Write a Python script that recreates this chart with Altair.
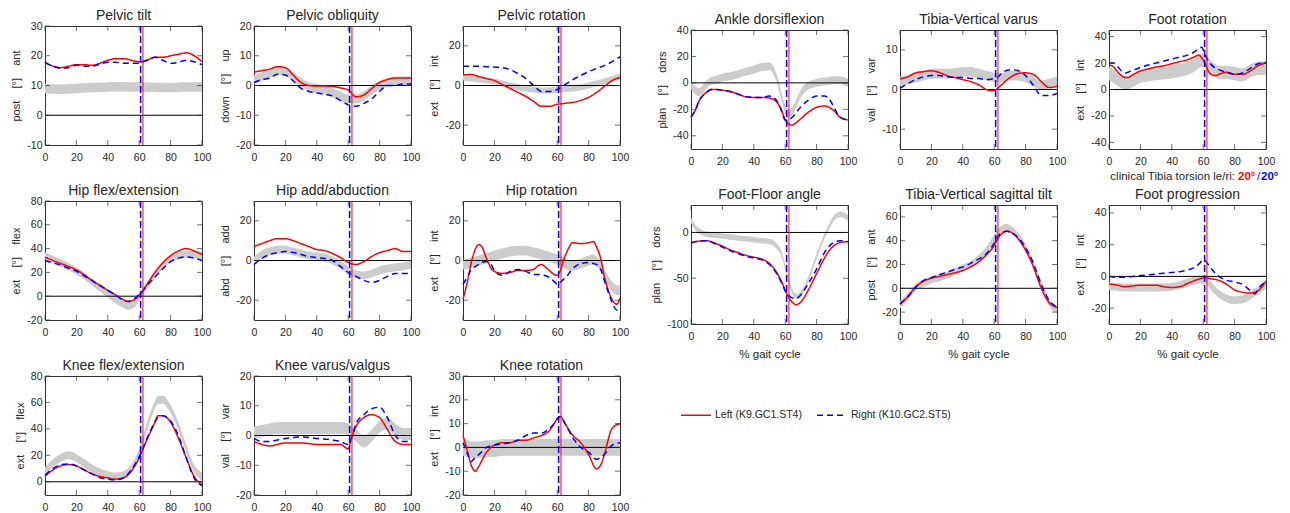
import altair as alt
import pandas as pd

FONT = "Liberation Sans"
TXT = "#262626"
NB = "\u00a0"
TO_LEFT = 62.4
TO_RIGHT = 60.9
LEFT_NAME = "Left (K9.GC1.ST4)"
RIGHT_NAME = "Right (K10.GC2.ST5)"
XTICKS = [0, 20, 40, 60, 80, 100]
S5 = [0, 5, 10, 15, 20, 25, 30, 35, 40, 45, 50, 55, 60, 65, 70, 75, 80, 85, 90, 95, 100]

# ---------------- Pelvic tilt
pt_x = S5
pt_left = [17.8, 16.5, 16, 16.5, 17, 17, 16.8, 17.5, 18.5, 19, 19, 18.5, 18, 18.5, 19.5, 19.5, 20, 20.5, 21, 20, 18]
pt_right = [17.8, 16.5, 15.8, 16, 16.8, 16.5, 16.5, 17.2, 17.8, 17.8, 17.5, 17.5, 17.5, 18.5, 19.5, 18.5, 17.5, 17.8, 18.5, 18, 17]
pt_norm = [9, 8.8, 8.7, 8.8, 9, 9.2, 9.3, 9.4, 9.5, 9.6, 9.6, 9.5, 9.5, 9.4, 9.4, 9.3, 9.3, 9.4, 9.5, 9.5, 9.5]
pt_sd = [1.6] * 21

# ---------------- Pelvic obliquity
po_x = S5
po_left = [4.5, 5, 5.5, 6.3, 6, 3.5, 1, 0, -0.2, -0.2, -0.3, -0.8, -1.5, -3.8, -3.2, -1, 1, 2, 2.5, 2.5, 2.5]
po_right = [1, 2, 2.5, 3.8, 3.5, 1.5, -1, -2, -2.5, -3, -3.5, -5, -6.5, -7, -6, -4.5, -2, 0, 0, 0.5, 0.5]
po_norm = [2, 3, 4, 5, 4.5, 3, 1, -0.5, -1, -1.5, -2.5, -3.5, -4.5, -4.5, -3.5, -1.5, 0, 1, 1.5, 1.5, 1.5]
po_sd = [1.5] * 21

# ---------------- Pelvic rotation
pr_x = S5
pr_left = [5.4, 5.5, 4.5, 3.5, 2.5, 0.5, -1.5, -3.5, -5.5, -8, -10.5, -10.5, -9.5, -9, -8.5, -7.5, -6, -3.5, -0.5, 2.5, 4]
pr_right = [9.7, 9.7, 9.7, 9.5, 9.3, 9, 8, 6, 3.5, 0, -3, -3, -2, 0.5, 3, 5, 7, 8.5, 10, 12, 14.5]
pr_norm = [4, 3.5, 3, 2.5, 2, 1, 0, -0.8, -1.5, -2, -2.5, -2.5, -2, -1.8, -1.5, -1, 0, 1, 2, 3.2, 4.5]
pr_sd = [1.5] * 21

# ---------------- Ankle dorsiflexion
ad_x = [0, 3, 5, 8, 10, 13, 15, 20, 25, 30, 35, 40, 45, 50, 55, 58, 60, 62, 64, 66, 70, 75, 80, 85, 88, 90, 95, 100]
ad_left = [-25.8, -20, -14, -9, -7, -5, -5, -5.5, -6.5, -8.5, -10.5, -11, -11, -11.5, -15, -22, -28, -31, -32, -31, -27, -22, -18.5, -17.5, -18.5, -20, -26, -28]
ad_right = [-25.8, -20, -14, -9, -7, -5, -5, -5.5, -6.5, -8.5, -10.5, -11, -11, -10, -14, -22, -28, -28, -26.5, -24, -18, -13, -10, -10, -12, -16, -26, -28]
ad_norm = [-2, -6, -7, -4, -1, 1.5, 2, 4, 5, 6.5, 8.5, 10, 12, 12.5, 2, -12, -20, -23, -22, -18, -8, -2, 0, 1, 1.5, 2, 2, 0]
ad_sd = [3] * 28

# ---------------- Tibia-Vertical varus
tv_x = [0, 5, 10, 15, 20, 25, 30, 35, 40, 45, 50, 55, 58, 60, 62, 65, 70, 75, 80, 85, 90, 95, 100]
tv_left = [2.7, 3.2, 4.2, 4.5, 4.7, 4.3, 3.5, 3, 2.5, 2, 1.2, 0, -0.3, -0.2, 0.2, 1.3, 3, 4, 4.2, 3.8, 2, 0.5, 0.8]
tv_right = [0.3, 1.5, 2.5, 3.2, 3.5, 3.5, 3.2, 3, 3, 2.8, 2.8, 2.5, 2.6, 2.8, 3, 4.2, 5, 4.8, 3.5, 1, -1.5, -1.5, -1]
tv_norm = [2, 2.5, 3, 3.5, 4, 4, 4, 4.2, 4.5, 4.5, 4, 3.5, 3.2, 3, 3, 3, 3.5, 3.5, 3, 2, 1, 1.5, 2]
tv_sd = [1.2] * 23

# ---------------- Foot rotation
fr_x = [0, 3, 5, 8, 10, 12, 15, 20, 25, 30, 35, 40, 45, 50, 55, 57, 59, 61, 63, 65, 68, 70, 75, 80, 85, 90, 95, 100]
fr_left = [18.6, 17, 14, 10.5, 9, 9, 11, 14, 15.5, 17, 18, 19.5, 21, 22.5, 25, 26, 24, 20, 14.5, 11.5, 10.5, 11.5, 13, 11.5, 11.5, 14, 18, 20]
fr_right = [20, 20, 18, 14, 12.5, 13, 14.5, 16.5, 18.5, 20, 21.5, 23, 24.5, 26, 29, 31, 32, 27, 22, 19, 16, 15, 13, 11.5, 12.5, 16, 19.5, 20.5]
fr_norm = [12, 10, 8, 6, 5, 5, 7, 10, 11, 12, 12.5, 13.5, 14.5, 16, 19, 21, 22, 22, 20, 17, 14, 13, 13, 12, 11, 14, 16, 16]
fr_sd = [5] * 28

# ---------------- Hip flex/extension
hf_x = [0, 5, 10, 15, 20, 25, 30, 35, 40, 45, 50, 53, 55, 58, 60, 62, 65, 70, 75, 80, 85, 90, 95, 100]
hf_left = [32.8, 30, 27.5, 25, 22, 18, 13, 9, 5, 1, -3, -4.5, -4, -2, 1, 4, 10, 20, 28, 34, 38, 40, 38, 35]
hf_right = [30, 28, 26, 23.5, 21, 17, 13, 9, 5, 1, -3.5, -4.5, -3.5, -1, 1.5, 4, 9, 16, 23, 29, 32, 33, 32, 30]
hf_norm = [34, 31, 28, 25, 21, 17, 12, 7, 2, -3, -7, -8.5, -8, -5, -1, 3, 9, 18, 26, 31, 34, 35, 35, 34]
hf_sd = [3] * 24

# ---------------- Hip add/abduction
ha_x = S5
ha_left = [7.1, 8.5, 10, 11, 11, 10, 8.5, 7, 5.5, 5, 3.5, 1.5, -1, -2, -0.5, 2, 4, 5, 6, 4.5, 4.5]
ha_right = [-2, 1, 3, 4, 4.5, 4, 3, 2, 1.5, 1, 0, -3, -6, -8, -10, -11, -10, -8, -6.5, -6.5, -6.5]
ha_norm = [0, 3, 4.5, 5.5, 5.5, 4.5, 3.5, 2.5, 2, 1.5, 0, -2, -5, -7, -7.5, -6.5, -5, -4, -3.5, -3, -2]
ha_sd = [2] * 21

# ---------------- Hip rotation
hr_x = [0, 3, 5, 8, 10, 12, 15, 18, 20, 25, 30, 35, 40, 45, 48, 50, 52, 55, 58, 60, 62, 64, 66, 70, 75, 80, 83, 85, 88, 90, 93, 96, 98, 100]
hr_left = [-19.5, -10, -2, 6, 8, 7, 1, -4, -5.5, -6.5, -6, -5, -5, -4.5, -2.5, -2, -3, -5, -7, -7.5, -5, 0, 4, 9, 8.5, 9, 9.5, 7, 0, -8, -16, -21, -22, -19]
hr_right = [-12, -8, -5, -3, -2, -1, -0.5, -2, -5, -7.5, -5.5, -4.5, -5.5, -7, -7, -7, -7.5, -8.5, -10.5, -12, -11, -9.5, -8, -4, -1.5, -1, -1.5, -2, -5, -10, -17, -23, -25, -24]
hr_norm = [-2, -1.5, -1, -0.5, 0, 0.5, 1, 2, 2.5, 3.5, 4.5, 5, 5, 4, 3.5, 3, 2.5, 2, 1, 0.5, 0, -1, -2, -2.5, -1.5, 0, 0.5, -0.5, -3.5, -7, -11, -14, -15, -15]
hr_sd = [2.5] * 34

# ---------------- Foot-Floor angle
ff_x = [0, 3, 5, 8, 10, 15, 20, 25, 30, 35, 40, 45, 50, 55, 58, 60, 62, 65, 67, 70, 75, 80, 85, 88, 90, 95, 100]
ff_left = [-11.5, -10, -9.5, -9, -9, -11.5, -15, -19, -22, -25, -27, -29, -34, -45, -55, -63, -70, -77, -79, -76, -62, -45, -28, -20, -16, -11, -10]
ff_right = [-11.5, -10, -9.5, -9, -9, -12, -16, -20, -23, -26, -28, -30, -35, -46, -56, -64, -68, -72, -72, -68, -55, -40, -22, -15, -12, -9, -10]
ff_norm = [13, 5, 2, -1, -2, -3, -4, -5, -6, -7, -8, -9, -10, -16, -25, -38, -52, -66, -70, -67, -50, -26, -4, 6, 13, 19.5, 16]
ff_sd = [3] * 27

# ---------------- Tibia-Vertical sagittal tilt
ts_x = [0, 5, 10, 15, 20, 25, 30, 35, 40, 45, 50, 55, 60, 62, 65, 68, 70, 75, 80, 85, 88, 90, 95, 100]
ts_left = [-13.5, -7, 1, 6, 8.5, 10, 11.5, 13, 15, 18, 22, 28, 36, 41, 46, 48, 47.5, 42, 32, 18, 7, 0, -12, -16]
ts_right = [-13, -7, 1, 6.5, 9, 11.5, 13.5, 16, 18, 21, 24.5, 29, 38, 43, 47, 48, 47, 43, 34, 21, 10, 3, -10, -16]
ts_norm = [-14, -7, 1, 4, 7, 9, 11, 14, 17, 20, 25, 32, 42, 46, 50, 51, 50, 44, 34, 20, 9, 4, -12, -18]
ts_sd = [3] * 24

# ---------------- Foot progression
fp_x = [0, 5, 10, 15, 20, 25, 30, 35, 40, 45, 50, 55, 58, 60, 62, 65, 70, 75, 80, 85, 90, 93, 95, 100]
fp_left = [-4.8, -5.5, -6.5, -6, -5.5, -5.5, -5.5, -6.5, -7, -6.5, -4.5, -2.5, -1.5, -1, -1, -1.5, -2.5, -5, -8.5, -10, -10.5, -10, -9, -3]
fp_right = [0, -0.5, -0.5, 0, 0.5, 1, 1.5, 2, 2.5, 3, 4, 6, 8.5, 10.5, 9, 5, 0, -2.5, -3.5, -5, -9, -11, -8, -3]
fp_norm = [-6, -6.5, -7, -7, -7, -7, -7, -7, -6.5, -5.5, -4, -2.5, -2, -2, -2.5, -6, -11, -14, -15, -14.5, -12, -10, -9, -5]
fp_sd = [2.5] * 24

# ---------------- Knee flex/extension
kf_x = [0, 5, 10, 15, 20, 25, 30, 35, 40, 45, 50, 55, 60, 65, 70, 72, 75, 80, 85, 90, 95, 100]
kf_left = [4, 9, 12, 13, 12, 9, 6, 4, 3, 2, 3, 8, 18, 32, 45, 50, 50, 45, 33, 18, 4, -2]
kf_right = [5, 10, 13, 13.5, 12, 9, 6, 3, 2, 1.5, 3, 9, 19, 33, 45, 49, 50, 46, 35, 18, 3, -3]
kf_norm = [8, 14, 18, 20, 18, 14, 10, 7, 5, 4, 5, 10, 22, 42, 58, 62, 62, 55, 42, 25, 10, 4]
kf_sd = [3] * 22

# ---------------- Knee varus/valgus
kv_x = [0, 5, 10, 15, 20, 30, 40, 50, 55, 60, 62, 65, 70, 75, 80, 85, 90, 95, 100]
kv_left = [-2, -3, -3.5, -3, -2.5, -2.5, -3, -3, -3, -4.5, -1, 3, 6, 7, 6, 2, -2, -3, -3]
kv_right = [-1, -2, -2, -1.5, -1, -0.5, -1, -1.5, -2, -3, -1, 4, 7, 9, 9.5, 6, 0, -2, -2]
kv_norm = [1, 1.5, 2, 2.5, 2.5, 2.5, 2.5, 2.5, 2.5, 2, 1, 0, -2, 0, 3, 4, 2, 0.5, 0.5]
kv_sd = [2] * 19

# ---------------- Knee rotation
kr_x = [0, 3, 5, 8, 10, 15, 20, 25, 30, 35, 40, 45, 50, 55, 58, 60, 62, 65, 70, 75, 80, 85, 88, 90, 95, 100]
kr_left = [5, -2, -7, -10, -8, -2, 1, 2, 2, 3, 3, 4, 5, 7, 10, 12, 13, 10, 5, 2, -3, -9, -7, -3, 8, 10]
kr_right = [2, -3, -6, -4, -3, 0, 1, 1.5, 2, 3, 5, 6, 6, 8, 10, 12, 13, 10, 4, 0, -2, -5, -4, -3, 1, 2]
kr_norm = [0, -0.5, -1, -1, -1, -0.5, -0.5, 0, 0, 0, 0, 0, 0, 0, 0, 0, 0, 0, 0, 0, 0, 0, 0, 0, 0, 0]
kr_sd = [3.5] * 26

W, H = 157, 119


def ylab(a, b):
    g = NB * 4
    return f"{a}{g}[°]{g}{b}"


def panel(title, ytitle, domain, yticks, xs, left, right, norm, sd,
          xtitle=False, legend=False, annotate=False):
    n = len(xs)
    band_df = pd.DataFrame({"x": xs,
                            "lo": [m - s for m, s in zip(norm, sd)],
                            "hi": [m + s for m, s in zip(norm, sd)]})
    line_df = pd.DataFrame({"x": list(xs) * 2, "v": list(left) + list(right),
                            "series": [LEFT_NAME] * n + [RIGHT_NAME] * n})
    xsc = alt.Scale(domain=[0, 100], nice=False)
    xkw = dict(values=XTICKS, labelPadding=7, labelFlush=False)
    if xtitle:
        xkw["title"] = "% gait cycle"
        xkw["titlePadding"] = 7
        xkw["titleFontSize"] = 11.5
    else:
        xkw["title"] = None
    xax = alt.Axis(**xkw)
    ysc = alt.Scale(domain=domain, nice=False, zero=False)
    yax = alt.Axis(values=yticks, title=ytitle, labelPadding=3, titlePadding=5,
                   labelExpr="replace(datum.label, '\u2212', '-')")

    def X(f):
        return alt.X(f, type="quantitative", scale=xsc, axis=xax)

    def Y(f):
        return alt.Y(f, type="quantitative", scale=ysc, axis=yax)

    band = alt.Chart(band_df).mark_area(color="#cccccc", interpolate="monotone").encode(
        x=X("x"), y=Y("lo"), y2="hi")
    zero = alt.Chart(pd.DataFrame({"z": [0]})).mark_rule(color="black", strokeWidth=1).encode(y=Y("z"))
    if legend:
        leg = alt.Legend(orient="none", legendX=-11, legendY=194, direction="horizontal",
                         symbolType="stroke", symbolSize=900, symbolStrokeWidth=1.5,
                         labelFont=FONT, labelFontSize=10.5, labelColor=TXT, labelOffset=3,
                         columnPadding=12, padding=0)
    else:
        leg = None
    cs = alt.Scale(domain=[LEFT_NAME, RIGHT_NAME], range=["red", "blue"])
    ds = alt.Scale(domain=[LEFT_NAME, RIGHT_NAME], range=[[1, 0], [6, 4]])
    lines = alt.Chart(line_df).mark_line(strokeWidth=1.5, interpolate="monotone").encode(
        x=X("x"), y=Y("v"),
        color=alt.Color("series:N", scale=cs, legend=leg, title=None),
        strokeDash=alt.StrokeDash("series:N", scale=ds, legend=leg, title=None))
    vb = alt.Chart(pd.DataFrame({"t": [TO_RIGHT]})).mark_rule(
        color="blue", strokeWidth=1.5, strokeDash=[7, 3]).encode(x=X("t"))
    vr = alt.Chart(pd.DataFrame({"t": [TO_LEFT]})).mark_rule(
        color="red", strokeWidth=1).encode(x=X("t"))

    # inward tick marks on all four sides of the frame
    xt = pd.DataFrame({"tx": XTICKS, "lo": [domain[0]] * len(XTICKS), "hi": [domain[1]] * len(XTICKS)})
    yt = pd.DataFrame({"ty": yticks, "l": [0] * len(yticks), "r": [100] * len(yticks)})
    tk = dict(color="#333333", thickness=1, size=5)
    tb = alt.Chart(xt).mark_tick(orient="vertical", yOffset=-2.5, **tk).encode(x=X("tx"), y=Y("lo"))
    tt = alt.Chart(xt).mark_tick(orient="vertical", yOffset=2.5, **tk).encode(x=X("tx"), y=Y("hi"))
    tl = alt.Chart(yt).mark_tick(orient="horizontal", xOffset=2.5, **tk).encode(x=X("l"), y=Y("ty"))
    tr = alt.Chart(yt).mark_tick(orient="horizontal", xOffset=-2.5, **tk).encode(x=X("r"), y=Y("ty"))

    base = alt.Chart(pd.DataFrame({"a": [0]}))
    ttl = base.mark_text(align="center", baseline="alphabetic", font=FONT, fontSize=14, color=TXT).encode(
        x=alt.value(W / 2), y=alt.value(-6), text=alt.value(title))

    layers = [band, zero, lines, vb, vr, tb, tt, tl, tr, ttl]
    if annotate:
        fs = 11.5
        layers.append(base.mark_text(align="right", baseline="middle", font=FONT, fontSize=fs, color=TXT).encode(
            x=alt.value(126), y=alt.value(147), text=alt.value("clinical Tibia torsion le/ri:")))
        layers.append(base.mark_text(align="left", baseline="middle", font=FONT, fontSize=fs, fontWeight="bold", color="red").encode(
            x=alt.value(129), y=alt.value(147), text=alt.value("20°")))
        layers.append(base.mark_text(align="left", baseline="middle", font=FONT, fontSize=fs, color="blue").encode(
            x=alt.value(148), y=alt.value(147), text=alt.value("/")))
        layers.append(base.mark_text(align="left", baseline="middle", font=FONT, fontSize=fs, fontWeight="bold", color="blue").encode(
            x=alt.value(152), y=alt.value(147), text=alt.value("20°")))
    return alt.layer(*layers).properties(width=W, height=H)


left_panels = [
    panel("Pelvic tilt", ylab("post", "ant"), [-10, 30], [-10, 0, 10, 20, 30], pt_x, pt_left, pt_right, pt_norm, pt_sd),
    panel("Pelvic obliquity", ylab("down", "up"), [-20, 20], [-20, -10, 0, 10, 20], po_x, po_left, po_right, po_norm, po_sd),
    panel("Pelvic rotation", ylab("ext", "int"), [-30, 30], [-20, 0, 20], pr_x, pr_left, pr_right, pr_norm, pr_sd),
    panel("Hip flex/extension", ylab("ext", "flex"), [-20, 80], [-20, 0, 20, 40, 60, 80], hf_x, hf_left, hf_right, hf_norm, hf_sd),
    panel("Hip add/abduction", ylab("abd", "add"), [-30, 30], [-20, 0, 20], ha_x, ha_left, ha_right, ha_norm, ha_sd),
    panel("Hip rotation", ylab("ext", "int"), [-30, 30], [-20, 0, 20], hr_x, hr_left, hr_right, hr_norm, hr_sd),
    panel("Knee flex/extension", ylab("ext", "flex"), [-10, 80], [0, 20, 40, 60, 80], kf_x, kf_left, kf_right, kf_norm, kf_sd),
    panel("Knee varus/valgus", ylab("val", "var"), [-20, 20], [-20, -10, 0, 10, 20], kv_x, kv_left, kv_right, kv_norm, kv_sd),
    panel("Knee rotation", ylab("ext", "int"), [-20, 30], [-20, -10, 0, 10, 20, 30], kr_x, kr_left, kr_right, kr_norm, kr_sd),
]

right_panels = [
    panel("Ankle dorsiflexion", ylab("plan", "dors"), [-50, 40], [-40, -20, 0, 20, 40], ad_x, ad_left, ad_right, ad_norm, ad_sd),
    panel("Tibia-Vertical varus", ylab("val", "var"), [-15, 15], [-10, 0, 10], tv_x, tv_left, tv_right, tv_norm, tv_sd),
    panel("Foot rotation", ylab("ext", "int"), [-45, 45], [-40, -20, 0, 20, 40], fr_x, fr_left, fr_right, fr_norm, fr_sd, annotate=True),
    panel("Foot-Floor angle", ylab("plan", "dors"), [-100, 30], [-100, -50, 0], ff_x, ff_left, ff_right, ff_norm, ff_sd, xtitle=True, legend=True),
    panel("Tibia-Vertical sagittal tilt", ylab("post", "ant"), [-30, 70], [-20, 0, 20, 40, 60], ts_x, ts_left, ts_right, ts_norm, ts_sd, xtitle=True),
    panel("Foot progression", ylab("ext", "int"), [-30, 45], [-20, 0, 20, 40], fp_x, fp_left, fp_right, fp_norm, fp_sd, xtitle=True),
]

IND = dict(color="independent", strokeDash="independent")

left_grid = alt.concat(*left_panels, columns=3, spacing=alt.RowColnumber(column=52, row=56),
                       bounds="flush").resolve_scale(**IND).resolve_legend(**IND)
right_grid = alt.concat(*right_panels, columns=3, spacing=alt.RowColnumber(column=52, row=56),
                        bounds="flush").resolve_scale(**IND).resolve_legend(**IND)

spacer = alt.Chart(pd.DataFrame({"a": [0]})).mark_point(opacity=0, size=1).encode(
    x=alt.X("a:Q", axis=None), y=alt.Y("a:Q", axis=None)).properties(
    width=1, height=1, view=alt.ViewBackground(strokeWidth=0))

right = alt.vconcat(spacer, right_grid, spacing=3, bounds="flush").resolve_scale(**IND).resolve_legend(**IND)

chart = alt.hconcat(left_grid, right, spacing=20).resolve_scale(**IND).resolve_legend(**IND).properties(
    padding={"left": 2, "top": 0, "right": 2, "bottom": 2}
).configure_view(
    stroke="#333333", strokeWidth=1
).configure_axis(
    labelFont=FONT, labelFontSize=10.5, labelColor=TXT, titleFont=FONT, titleFontSize=11,
    titleFontWeight="normal", titleColor=TXT, ticks=False, domain=False, grid=False
)

chart.save("out.html", embed_options={"renderer": "svg", "actions": False})
